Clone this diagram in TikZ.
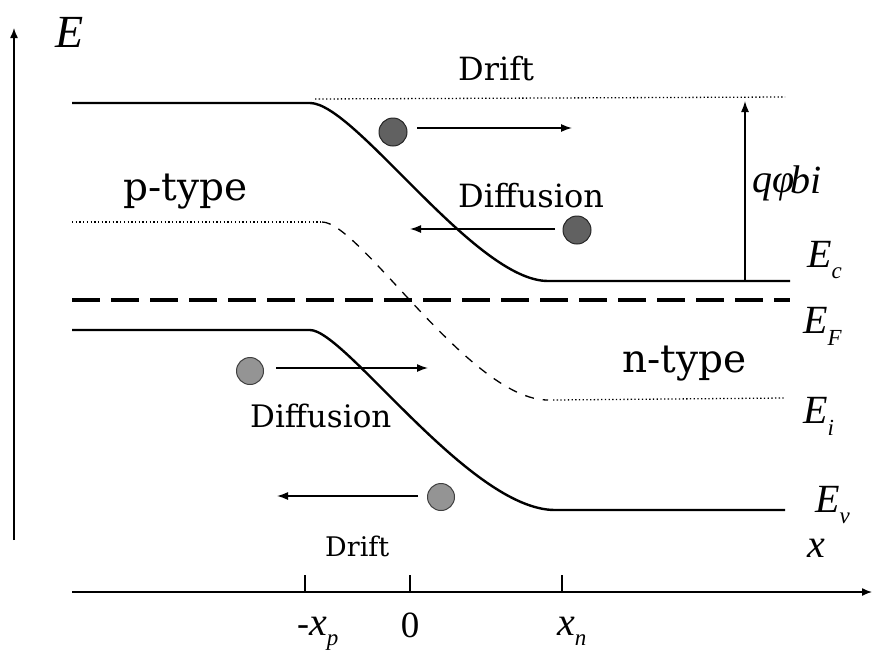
\documentclass[tikz,border=0pt]{standalone}
\usepackage{fontspec}
\setmainfont{DejaVu Serif}
\newfontfamily\labfont{Liberation Serif}
\usetikzlibrary{arrows.meta}
\newcommand\bandlab[3]{{\labfont\itshape\fontsize{40}{40}\selectfont #1}\raisebox{#3}{\labfont\itshape\fontsize{23}{23}\selectfont #2}}
\tikzset{
  band/.style={line width=2.4pt},
  dotline/.style={line width=1.3pt, dash pattern=on 1.3pt off 2.4pt},
  fermi/.style={line width=3.2pt, dash pattern=on 28pt off 11pt},
  midline/.style={line width=1.3pt, dash pattern=on 9pt off 9pt},
  axis/.style={line width=1.4pt, -{Latex[length=10pt,width=8pt]}},
  mover/.style={line width=1.4pt, -{Latex[length=11pt,width=8pt]}},
  tick/.style={line width=1.2pt},
  electron/.style={circle, draw=black!85, fill=black!62, minimum size=28pt, inner sep=0pt, line width=1pt},
  hole/.style={circle, draw=black!75, fill=black!42, minimum size=27pt, inner sep=0pt, line width=1pt},
  txt/.style={inner sep=0pt, anchor=base west},
}
\begin{document}
\begin{tikzpicture}[x=1pt,y=-1pt]
\useasboundingbox (0,0) rectangle (877,651);
% axes
\coordinate (eaxb) at (14,540);
\coordinate (eaxt) at (14,28);
\draw[axis] (eaxb) -- (eaxt);
\coordinate (xaxl) at (72,592);
\coordinate (xaxr) at (872,592);
\draw[axis] (xaxl) -- (xaxr);
\coordinate (tpb) at (305,592); \coordinate (tpt) at (305,575);
\coordinate (t0b) at (410,592); \coordinate (t0t) at (410,575);
\coordinate (tnb) at (562,592); \coordinate (tnt) at (562,575);
\draw[tick] (tpb) -- (tpt);
\draw[tick] (t0b) -- (t0t);
\draw[tick] (tnb) -- (tnt);
% conduction band
\draw[band] (72,103) -- (310,103) .. controls (355,103) and (475,281) .. (548,281) -- (790,281);
\draw[dotline] (315,99) -- (785,97);
\coordinate (qb) at (745,281);
\coordinate (qt) at (745,101);
\draw[mover] (qb) -- (qt);
% Fermi level
\draw[fermi] (72,300) -- (790,300);
% intrinsic level
\draw[dotline] (72,222) -- (322,222);
\draw[midline] (322,222) .. controls (360,222) and (470,400) .. (548,400);
\draw[dotline] (553,400) -- (785,398);
% valence band
\draw[band] (72,330) -- (310,330) .. controls (345,330) and (470,510) .. (555,510) -- (785,510);
% carriers
\node[electron] (e1) at (393,132) {};
\coordinate (e1a) at (417,128); \coordinate (e1b) at (572,128);
\draw[mover] (e1a) -- (e1b);
\node[electron] (e2) at (577,230) {};
\coordinate (e2a) at (555,229); \coordinate (e2b) at (410,229);
\draw[mover] (e2a) -- (e2b);
\node[hole] (h1) at (250,371) {};
\coordinate (h1a) at (276,368); \coordinate (h1b) at (428,368);
\draw[mover] (h1a) -- (h1b);
\node[hole] (h2) at (441,497) {};
\coordinate (h2a) at (418,496); \coordinate (h2b) at (277,496);
\draw[mover] (h2a) -- (h2b);
% texts
\node[txt, font=\fontsize{32}{32}\selectfont] (drift1) at (458,80) {Drift};
\node[txt, font=\fontsize{32}{32}\selectfont] (diff1) at (458,207) {Diffusion};
\node[txt, font=\fontsize{39}{39}\selectfont] (ptype) at (123,200) {p-type};
\node[txt, font=\fontsize{39}{39}\selectfont] (ntype) at (622,372) {n-type};
\node[txt, font=\fontsize{31}{31}\selectfont] (diff2) at (250,427) {Diffusion};
\node[txt, font=\fontsize{27}{27}\selectfont] (drift2) at (325,556) {Drift};
% math labels
\node[txt, font=\labfont\itshape\fontsize{46}{46}\selectfont] (elab) at (55,47) {E};
\node[txt] (ec) at (807,267) {\bandlab{E}{c}{-11pt}};
\node[txt] (ef) at (803,333) {\bandlab{E}{F}{-12pt}};
\node[txt] (ei) at (803,423) {\bandlab{E}{i}{-12pt}};
\node[txt] (ev) at (815,512) {\bandlab{E}{v}{-11pt}};
\node[txt, font=\labfont\itshape\fontsize{40}{40}\selectfont] (xlab) at (807,557) {x};
\node[txt, font=\labfont\itshape\fontsize{40}{40}\selectfont] (qphi) at (752,192) {qφ\kern-4pt\raisebox{-1pt}{bi}};
\node[txt] (xp) at (297,635) {{\labfont\fontsize{36}{36}\selectfont -}\bandlab{x}{p}{-10pt}};
\node[inner sep=0pt, anchor=base, font=\labfont\fontsize{37}{37}\selectfont] (zero) at (410,637) {0};
\node[txt] (xn) at (557,635) {\bandlab{x}{n}{-10pt}};
\end{tikzpicture}
\end{document}
